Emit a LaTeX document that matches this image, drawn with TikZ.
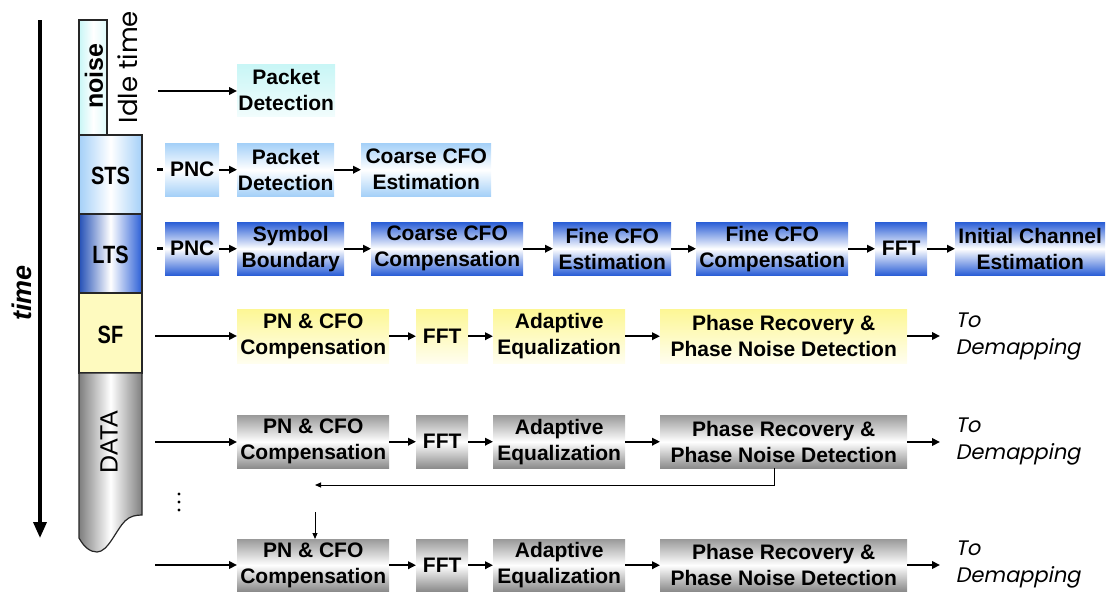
\documentclass[tikz,border=0pt]{standalone}
\usepackage{graphicx}
\usepackage{fontspec}
\setmainfont{Liberation Sans}
\newfontfamily\gothic{Poppins}
\newfontfamily\gothicit[FakeSlant=0.2]{Poppins}
\usetikzlibrary{arrows.meta}

\definecolor{noisecyan}{HTML}{C8F6F6}
\definecolor{stsblue}{HTML}{A4D0F8}
\definecolor{ltsblue}{HTML}{2A5ED6}
\definecolor{sfyellow}{HTML}{FDF795}
\definecolor{datagray}{HTML}{9A9A9A}
\definecolor{colgray}{HTML}{7E7E7E}

\tikzset{
  blk/.style={anchor=north west, inner sep=0pt, align=center,
              font=\fontsize{21}{26}\selectfont\bfseries},
  sz/.style 2 args={minimum width=#1, minimum height=#2},
  idlebox/.style={blk, top color=noisecyan, bottom color=noisecyan!25},
  stsbox/.style={blk, top color=stsblue, bottom color=stsblue, middle color=white},
  ltsbox/.style={blk, top color=ltsblue, bottom color=ltsblue, middle color=white},
  sfbox/.style={blk, top color=sfyellow, bottom color=sfyellow!15},
  databox/.style={blk, top color=datagray, bottom color=datagray!90!black, middle color=white},
  flow/.style={line width=2pt, -{Triangle[length=8pt,width=7.5pt]}},
  fb/.style={line width=1pt, -{Triangle[length=6pt,width=5pt]}},
  seg/.style={draw=black!85, line width=1.2pt},
  seglabel/.style={font=\fontsize{25}{25}\selectfont\bfseries},
  todemap/.style={anchor=west, align=left, font=\gothicit\fontsize{21}{27}\selectfont},
}

\begin{document}
\begin{tikzpicture}[x=1pt, y=-1pt]
\useasboundingbox (0,0) rectangle (1113,597);

% ---- time axis ----
\coordinate (t0) at (40,20);
\coordinate (t1) at (40,538);
\draw[line width=3.5pt, -{Triangle[length=16pt,width=13pt]}] (t0) -- (t1);
\node[rotate=90, font=\fontsize{27}{27}\selectfont\bfseries\itshape] (timeL) at (22,293) {time};

% ---- frame column ----
\draw[seg, left color=noisecyan, right color=noisecyan!60, middle color=white] (79,20) rectangle (107,135);
\draw[seg, left color=stsblue, right color=stsblue, middle color=white] (79,135) rectangle (142,214);
\draw[seg, left color=ltsblue!85!black, right color=ltsblue, middle color=white] (79,214) rectangle (142,293);
\draw[seg, fill=sfyellow!60] (79,293) rectangle (142,373);
\draw[seg, left color=colgray, right color=colgray, middle color=white]
  (79,373) -- (79,538) .. controls (84,547) and (90,552) .. (97,552)
  .. controls (108,552) and (116,530) .. (125,521)
  .. controls (130,516) and (136,515) .. (142,515) -- (142,373) -- cycle;

\node[rotate=90, font=\fontsize{25}{25}\selectfont\bfseries] (noiseL) at (94,76) {noise};
\node[rotate=90, font=\gothic\fontsize{26}{26}\selectfont] (idleL) at (128,67) {Idle time};
\node[seglabel] (stsL) at (110.5,176) {\scalebox{0.8}[1]{STS}};
\node[seglabel] (ltsL) at (110.5,255) {\scalebox{0.8}[1]{LTS}};
\node[seglabel] (sfL) at (110.5,335) {\scalebox{0.8}[1]{SF}};
\node[rotate=90, font=\fontsize{25}{25}\selectfont] (dataL) at (109,442) {DATA};

% ---- idle time: packet detection ----
\node[idlebox, sz={98}{52}] (pd0) at (237,64) {Packet\\Detection};
\coordinate (in0) at (158,91);
\draw[flow] (in0) -- (in0 -| pd0.west);

% ---- STS row ----
\node[stsbox, sz={54}{53}] (pncS) at (165,143) {PNC};
\node[stsbox, sz={97}{53}] (pdS) at (237,143) {Packet\\Detection};
\node[stsbox, sz={130}{53}] (ceS) at (361,143) {Coarse CFO\\Estimation};
\coordinate (dS) at ([xshift=-8pt]pncS.west);
\draw[line width=2.5pt] (dS) -- ([xshift=-2pt]pncS.west);
\draw[flow] (pncS) -- (pdS);
\draw[flow] (pdS) -- (ceS);

% ---- LTS row ----
\node[ltsbox, sz={54}{53}] (pncL) at (165,222) {PNC};
\node[ltsbox, sz={107}{53}] (sbL) at (237,222) {Symbol\\Boundary};
\node[ltsbox, sz={152}{53}] (ccL) at (371,222) {Coarse CFO\\Compensation};
\node[ltsbox, sz={118}{53}] (feL) at (553,222) {Fine CFO\\Estimation};
\node[ltsbox, sz={152}{53}] (fcL) at (696,222) {Fine CFO\\Compensation};
\node[ltsbox, sz={52}{53}] (fftL) at (875,222) {FFT};
\node[ltsbox, sz={150}{53}] (iceL) at (955,222) {Initial Channel\\Estimation};
\coordinate (dL) at ([xshift=-8pt]pncL.west);
\draw[line width=2.5pt] (dL) -- ([xshift=-2pt]pncL.west);
\draw[flow] (pncL) -- (sbL);
\draw[flow] (sbL) -- (ccL);
\draw[flow] (ccL) -- (feL);
\draw[flow] (feL) -- (fcL);
\draw[flow] (fcL) -- (fftL);
\draw[flow] (fftL) -- (iceL);

% ---- SF row ----
\node[sfbox, sz={152}{54}] (pnF) at (237,309) {PN \& CFO\\Compensation};
\node[sfbox, sz={52}{54}] (fftF) at (416,309) {FFT};
\node[sfbox, sz={132}{54}] (aeF) at (493,309) {Adaptive\\Equalization};
\node[sfbox, sz={247}{54}] (prF) at (660,309) {Phase Recovery \&\\Phase Noise Detection};
\coordinate (inF) at (155,336);
\coordinate (outF) at (940,336);
\draw[flow] (inF) -- (inF -| pnF.west);
\draw[flow] (pnF) -- (fftF);
\draw[flow] (fftF) -- (aeF);
\draw[flow] (aeF) -- (prF);
\draw[flow] (prF.east |- outF) -- (outF);
\node[todemap] (tdF) at (952,337) {To\\Demapping};

% ---- DATA row ----
\node[databox, sz={152}{53}] (pnD) at (237,415) {PN \& CFO\\Compensation};
\node[databox, sz={52}{53}] (fftD) at (416,415) {FFT};
\node[databox, sz={132}{53}] (aeD) at (493,415) {Adaptive\\Equalization};
\node[databox, sz={247}{53}] (prD) at (660,415) {Phase Recovery \&\\Phase Noise Detection};
\coordinate (inD) at (155,442);
\coordinate (outD) at (940,442);
\draw[flow] (inD) -- (inD -| pnD.west);
\draw[flow] (pnD) -- (fftD);
\draw[flow] (fftD) -- (aeD);
\draw[flow] (aeD) -- (prD);
\draw[flow] (prD.east |- outD) -- (outD);
\node[todemap] (tdD) at (952,442) {To\\Demapping};

% ---- feedback to the next symbol ----
\coordinate (fbTip) at (315,485);
\coordinate (fbStart) at (315,512);
\draw[fb] ([xshift=-9.5pt]prD.south) |- (fbTip);

% ---- repeated symbols ----
\foreach \yy in {494,502,510} \fill (179,\yy) circle (1.7pt);

% ---- last DATA row ----
\node[databox, sz={152}{52}] (pnB) at (237,539) {PN \& CFO\\Compensation};
\node[databox, sz={52}{52}] (fftB) at (416,539) {FFT};
\node[databox, sz={132}{52}] (aeB) at (493,539) {Adaptive\\Equalization};
\node[databox, sz={247}{52}] (prB) at (660,539) {Phase Recovery \&\\Phase Noise Detection};
\coordinate (inB) at (155,565);
\coordinate (outB) at (940,565);
\draw[fb] (fbStart) -- (fbStart |- pnB.north);
\draw[flow] (inB) -- (inB -| pnB.west);
\draw[flow] (pnB) -- (fftB);
\draw[flow] (fftB) -- (aeB);
\draw[flow] (aeB) -- (prB);
\draw[flow] (prB.east |- outB) -- (outB);
\node[todemap] (tdB) at (952,565) {To\\Demapping};

\end{tikzpicture}
\end{document}
